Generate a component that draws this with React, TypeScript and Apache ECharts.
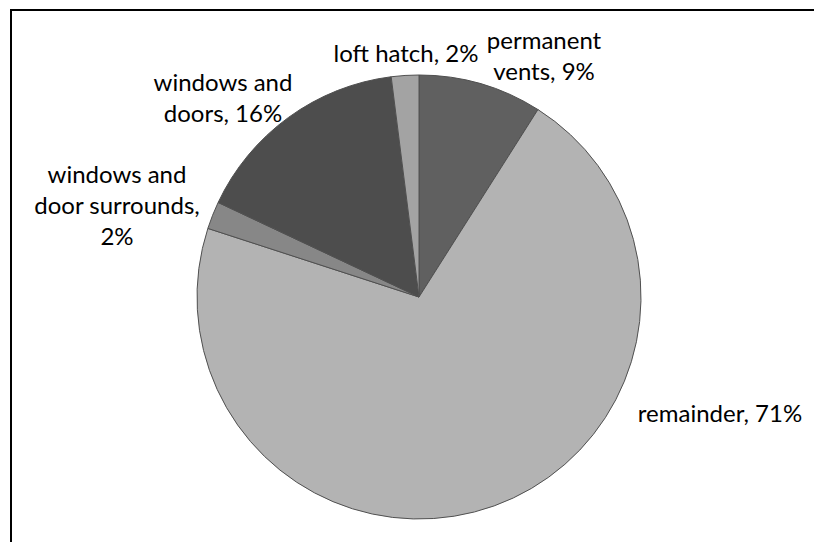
import React, { useEffect, useRef } from "react";
import * as echarts from "echarts";

const categories = [
  "permanent vents",
  "remainder",
  "windows and door surrounds",
  "windows and doors",
  "loft hatch",
];
const values = [9, 71, 2, 16, 2];
const labelLines = [
  ["permanent", "vents, 9%"],
  ["remainder, 71%"],
  ["windows and", "door surrounds,", "2%"],
  ["windows and", "doors, 16%"],
  ["loft hatch, 2%"],
];
const colors = ["#606060", "#b3b3b3", "#878787", "#4d4d4d", "#a3a3a3"];
const labelPos = [
  [544, 55],
  [720, 412],
  [117, 204],
  [223, 97],
  [406, 52],
];

export default function App() {
  const ref = useRef<HTMLDivElement>(null);
  useEffect(() => {
    if (!ref.current) return;
    const chart = echarts.init(ref.current, null, { renderer: "svg" });
    chart.setOption({
      animation: false,
      graphic: [
        {
          type: "polyline",
          shape: { points: [[11, 600], [11, 10], [900, 10]] },
          style: { stroke: "#000", lineWidth: 2, fill: "none" },
        },
      ],
      series: [
        {
          type: "pie",
          center: [419, 297],
          radius: 222,
          startAngle: 90,
          clockwise: true,
          avoidLabelOverlap: false,
          data: categories.map((name, i) => ({
            name,
            value: values[i],
            itemStyle: { color: colors[i] },
          })),
          itemStyle: { borderColor: "#505050", borderWidth: 1 },
          label: {
            show: true,
            position: "outside",
            fontFamily: "Lato",
            fontSize: 24,
            lineHeight: 31,
            color: "#000",
            align: "center",
            formatter: (p: any) => labelLines[p.dataIndex].join("\n"),
          },
          labelLine: { show: false },
          labelLayout: (p: any) => ({
            x: labelPos[p.dataIndex][0],
            y: labelPos[p.dataIndex][1],
            align: "center",
            verticalAlign: "middle",
          }),
          emphasis: { disabled: true },
        },
      ],
    });
    return () => chart.dispose();
  }, []);
  return (
    <div
      ref={ref}
      style={{ position: "absolute", left: 0, top: 0, width: 814, height: 542, background: "#fff" }}
    />
  );
}
